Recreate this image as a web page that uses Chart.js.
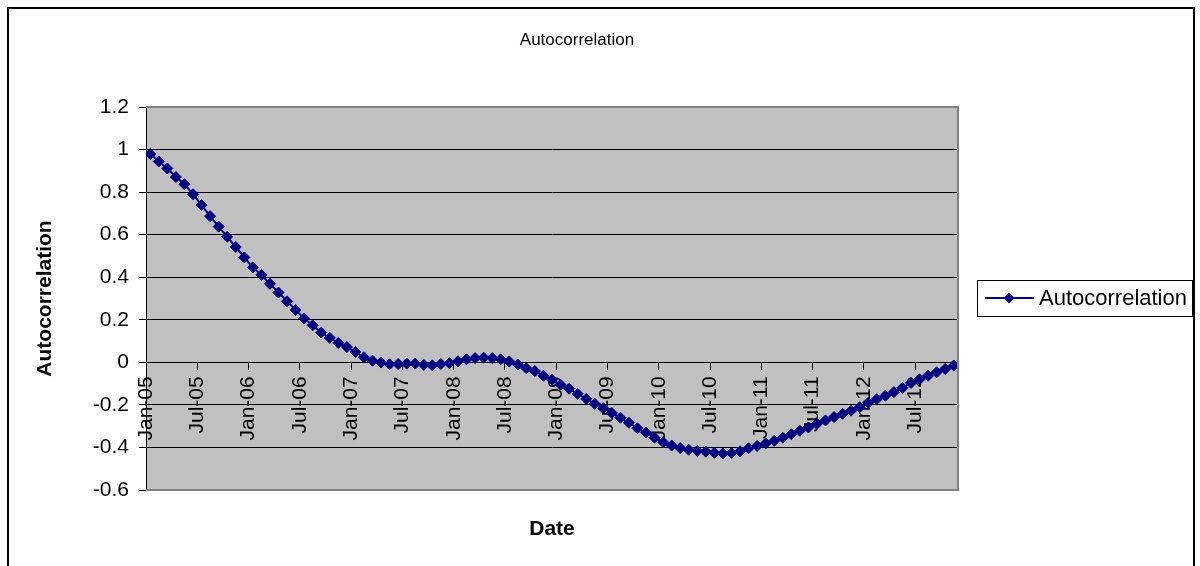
<!DOCTYPE html>
<html>
<head>
<meta charset="utf-8">
<title>Autocorrelation</title>
<script src="https://cdn.jsdelivr.net/npm/chart.js@4.4.1/dist/chart.umd.min.js"></script>
<style>
    html, body { margin: 0; padding: 0; background: #ffffff; }
    #wrap { position: relative; width: 1200px; height: 566px; }
</style>
</head>
<body>
<div id="wrap"><canvas id="acfChart"></canvas></div>
<script>
// Monthly lags, Jan-05 .. Nov-12
const months = [
    'Jan-05', 'Feb-05', 'Mar-05', 'Apr-05', 'May-05', 'Jun-05', 'Jul-05', 'Aug-05', 'Sep-05', 'Oct-05', 'Nov-05', 'Dec-05',
    'Jan-06', 'Feb-06', 'Mar-06', 'Apr-06', 'May-06', 'Jun-06', 'Jul-06', 'Aug-06', 'Sep-06', 'Oct-06', 'Nov-06', 'Dec-06',
    'Jan-07', 'Feb-07', 'Mar-07', 'Apr-07', 'May-07', 'Jun-07', 'Jul-07', 'Aug-07', 'Sep-07', 'Oct-07', 'Nov-07', 'Dec-07',
    'Jan-08', 'Feb-08', 'Mar-08', 'Apr-08', 'May-08', 'Jun-08', 'Jul-08', 'Aug-08', 'Sep-08', 'Oct-08', 'Nov-08', 'Dec-08',
    'Jan-09', 'Feb-09', 'Mar-09', 'Apr-09', 'May-09', 'Jun-09', 'Jul-09', 'Aug-09', 'Sep-09', 'Oct-09', 'Nov-09', 'Dec-09',
    'Jan-10', 'Feb-10', 'Mar-10', 'Apr-10', 'May-10', 'Jun-10', 'Jul-10', 'Aug-10', 'Sep-10', 'Oct-10', 'Nov-10', 'Dec-10',
    'Jan-11', 'Feb-11', 'Mar-11', 'Apr-11', 'May-11', 'Jun-11', 'Jul-11', 'Aug-11', 'Sep-11', 'Oct-11', 'Nov-11', 'Dec-11',
    'Jan-12', 'Feb-12', 'Mar-12', 'Apr-12', 'May-12', 'Jun-12', 'Jul-12', 'Aug-12', 'Sep-12', 'Oct-12', 'Nov-12'
];

const autocorrelation = [
    0.979, 0.944, 0.911, 0.871, 0.837, 0.790, 0.739, 0.687, 0.638, 0.590, 0.542, 0.493,
    0.446, 0.411, 0.369, 0.328, 0.287, 0.246, 0.206, 0.174, 0.140, 0.115, 0.091, 0.072,
    0.049, 0.024, 0.008, -0.001, -0.009, -0.008, -0.006, -0.006, -0.012, -0.014, -0.008, -0.004,
    0.005, 0.014, 0.020, 0.022, 0.020, 0.014, 0.004, -0.010, -0.028, -0.041, -0.063, -0.082,
    -0.105, -0.124, -0.148, -0.172, -0.195, -0.216, -0.238, -0.260, -0.284, -0.310, -0.330, -0.354,
    -0.375, -0.391, -0.403, -0.411, -0.416, -0.420, -0.425, -0.428, -0.426, -0.418, -0.404, -0.393,
    -0.381, -0.369, -0.354, -0.338, -0.322, -0.306, -0.289, -0.273, -0.257, -0.242, -0.227, -0.211,
    -0.190, -0.173, -0.157, -0.140, -0.120, -0.097, -0.080, -0.063, -0.047, -0.031, -0.015
];

const yTicks = { min: -0.6, max: 1.2, step: 0.2 };

const FONT = "'Liberation Sans', Arial, sans-serif";
const NAVY = '#000080';
const CHART_TITLE = 'Autocorrelation';

// Each month sits in the middle of its slot, ticks fall on the slot edges
const points = autocorrelation.map((v, i) => ({ x: i + 0.5, y: v }));

// Gray plot area, outer frame, titles and boxed legend
const excelLook = {
    id: 'excelLook',
    beforeDraw(chart) {
        const { ctx, chartArea: a } = chart;
        ctx.save();
        ctx.fillStyle = '#ffffff';
        ctx.fillRect(0, 0, chart.width, chart.height);
        ctx.fillStyle = '#c0c0c0';
        ctx.fillRect(a.left, a.top, a.right - a.left, a.bottom - a.top);
        ctx.restore();
    },
    afterDraw(chart) {
        const { ctx, chartArea: a } = chart;
        ctx.save();

        // plot border
        ctx.strokeStyle = '#808080';
        ctx.lineWidth = 2;
        ctx.beginPath();
        ctx.moveTo(a.left, a.top);
        ctx.lineTo(a.right, a.top);
        ctx.lineTo(a.right, a.bottom);
        ctx.lineTo(a.left, a.bottom);
        ctx.stroke();

        // chart frame
        ctx.strokeStyle = '#000000';
        ctx.lineWidth = 2;
        ctx.strokeRect(8, 8, 1186, 620);

        // chart title
        ctx.fillStyle = '#000000';
        ctx.textAlign = 'center';
        ctx.textBaseline = 'middle';
        ctx.font = '17px ' + FONT;
        ctx.fillText(CHART_TITLE, 577, 40);

        // x axis title
        ctx.font = 'bold 21px ' + FONT;
        ctx.fillText('Date', (a.left + a.right) / 2, 529);

        // legend
        const lx = 977, ly = 280, lw = 215, lh = 36;
        ctx.fillStyle = '#ffffff';
        ctx.fillRect(lx, ly, lw, lh);
        ctx.strokeStyle = '#000000';
        ctx.lineWidth = 1;
        ctx.strokeRect(lx + 0.5, ly + 0.5, lw, lh);
        const cy = ly + lh / 2;
        ctx.strokeStyle = NAVY;
        ctx.lineWidth = 2;
        ctx.beginPath();
        ctx.moveTo(lx + 8, cy);
        ctx.lineTo(lx + 57, cy);
        ctx.stroke();
        ctx.fillStyle = NAVY;
        ctx.beginPath();
        ctx.moveTo(lx + 32, cy - 5.5);
        ctx.lineTo(lx + 37.5, cy);
        ctx.lineTo(lx + 32, cy + 5.5);
        ctx.lineTo(lx + 26.5, cy);
        ctx.closePath();
        ctx.fill();
        ctx.fillStyle = '#000000';
        ctx.font = '22px ' + FONT;
        ctx.textAlign = 'left';
        ctx.fillText(chart.data.datasets[0].label, lx + 62, cy + 1);

        ctx.restore();
    }
};

new Chart(document.getElementById('acfChart'), {
    type: 'line',
    data: {
        datasets: [{
            label: 'Autocorrelation',
            data: points,
            borderColor: NAVY,
            backgroundColor: NAVY,
            borderWidth: 2,
            pointStyle: 'rectRot',
            pointRadius: 5.5,
            pointBorderWidth: 1,
            pointBackgroundColor: NAVY,
            pointBorderColor: NAVY,
            tension: 0
        }]
    },
    options: {
        responsive: true,
        maintainAspectRatio: false,
        animation: false,
        layout: {
            padding: { left: 0, right: 242, top: 107, bottom: 76 }
        },
        plugins: {
            legend: { display: false },
            tooltip: { enabled: false },
            title: { display: false }
        },
        scales: {
            x: {
                type: 'linear',
                position: { y: 0 },
                min: 0,
                max: months.length,
                grid: {
                    drawOnChartArea: false,
                    drawTicks: true,
                    tickLength: 7,
                    tickColor: '#000000'
                },
                border: { display: true, color: '#000000', width: 1 },
                ticks: {
                    stepSize: 6,
                    includeBounds: false,
                    autoSkip: false,
                    minRotation: 90,
                    maxRotation: 90,
                    padding: 7,
                    color: '#000000',
                    font: { family: FONT, size: 21 },
                    callback: v => months[v] || ''
                }
            },
            y: {
                min: yTicks.min,
                max: yTicks.max,
                afterFit(scale) { scale.width = 146; },
                grid: {
                    color: '#000000',
                    lineWidth: 1,
                    tickLength: 7,
                    tickColor: '#000000'
                },
                border: { display: true, color: '#000000', width: 1 },
                title: {
                    display: true,
                    text: 'Autocorrelation',
                    color: '#000000',
                    font: { family: FONT, size: 21, weight: 'bold' },
                    padding: { top: 33, bottom: 0 }
                },
                ticks: {
                    stepSize: yTicks.step,
                    padding: 10,
                    color: '#000000',
                    font: { family: FONT, size: 21 },
                    callback: v => String(Number(v.toFixed(1)))
                }
            }
        }
    },
    plugins: [excelLook]
});
</script>
</body>
</html>
